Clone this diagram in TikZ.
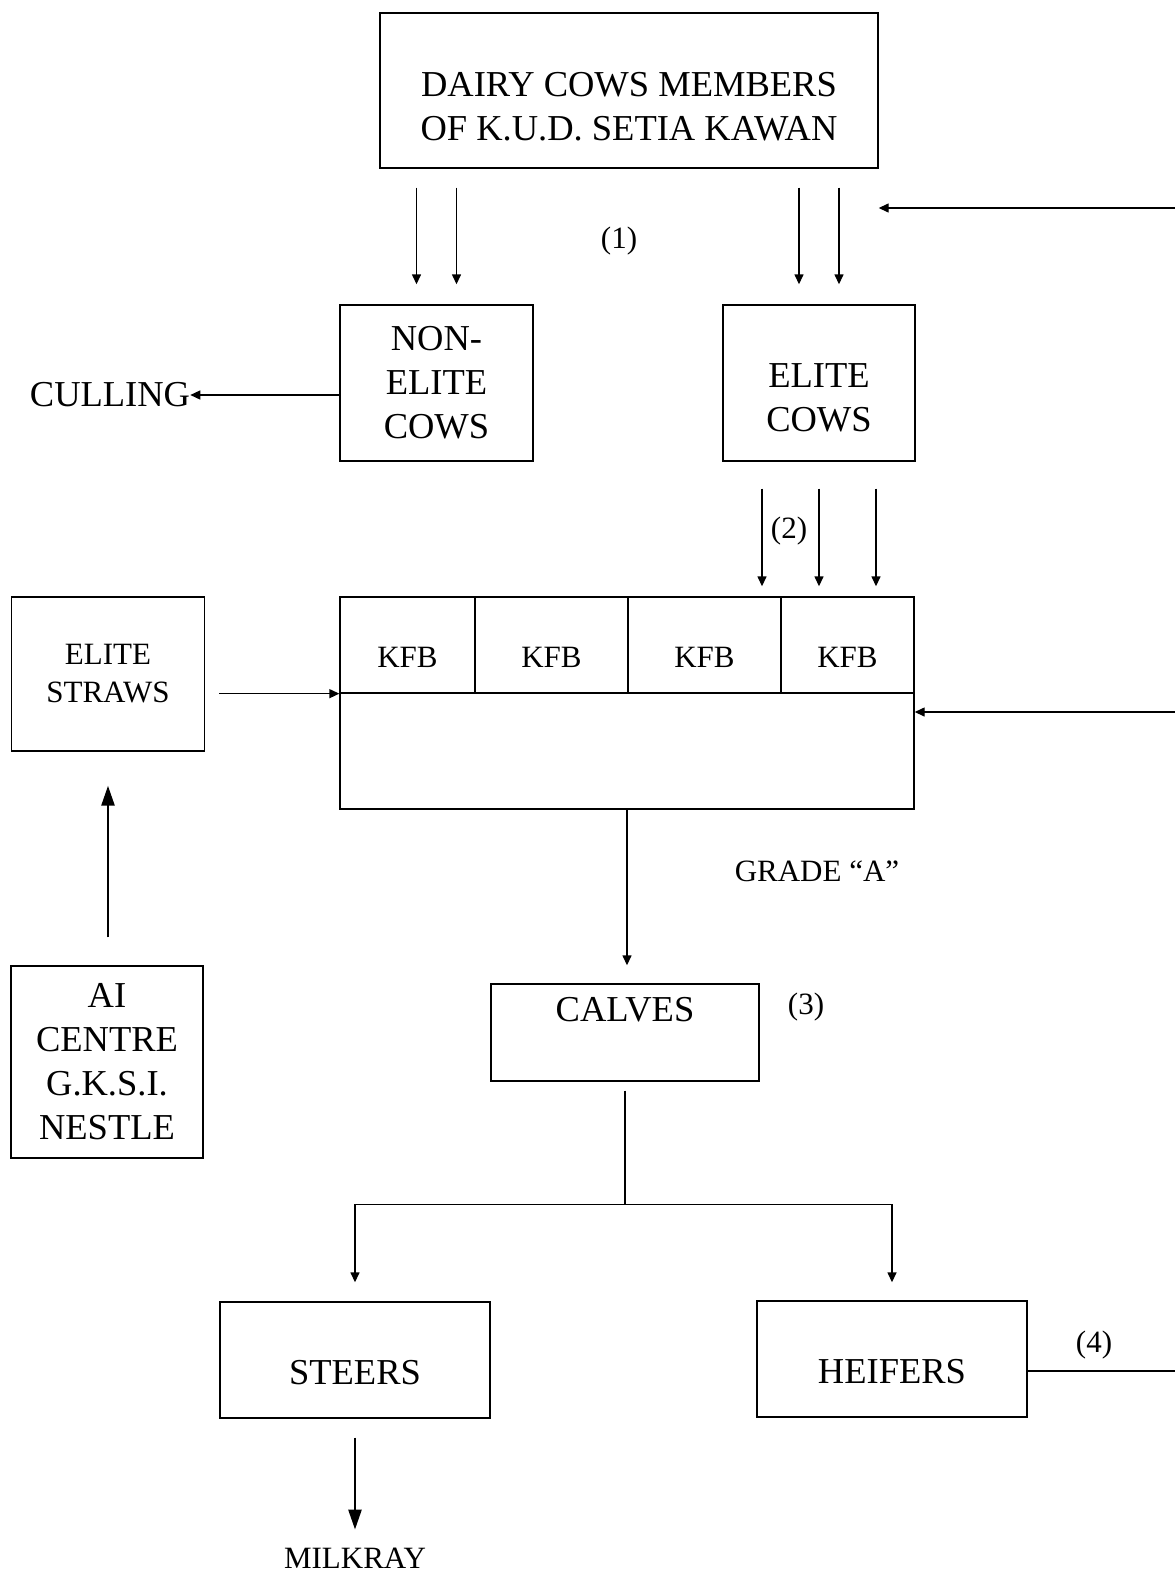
\documentclass[tikz,border=0pt]{standalone}
\usepackage{fontspec}
\setmainfont{Liberation Serif}
\usetikzlibrary{arrows.meta,positioning}
\newcommand\boxfont{\fontsize{36.5}{44}\selectfont}
\newcommand\notefont{\fontsize{31}{38}\selectfont}
\tikzset{
  unit/.style ={rectangle, draw=black, line width=1.4pt, inner sep=0pt,
                align=center, font=\boxfont},
  cell/.style ={rectangle, draw=black, line width=1.3pt, inner sep=0pt,
                minimum height=96pt, font=\notefont, text height=44.5pt, text depth=0pt},
  sink/.style ={text height=#1, text depth=0pt},
  lbl/.style  ={inner sep=0pt, align=center, font=\boxfont},
  note/.style ={inner sep=0pt, font=\notefont},
  ln/.style   ={line width=1.4pt},
  ar/.style   ={-{Triangle[length=10pt,width=9pt]}, line width=1.4pt},
  bigar/.style={-{Triangle[length=20pt,width=13pt]}, line width=2.6pt},
}
\begin{document}
\begin{tikzpicture}[x=1pt, y=-1pt]
\useasboundingbox (0,0) rectangle (1175,1577);

\node[unit, minimum width=498pt, minimum height=155pt,
      label={[lbl, yshift=-16pt]center:{DAIRY COWS MEMBERS\\OF K.U.D. SETIA KAWAN}}] (dairy) at (629,90.5) {};
\node[unit, minimum width=193pt, minimum height=156pt] (nonelite) at (436.5,383) {NON-\\ELITE\\COWS};
\node[unit, minimum width=192pt, minimum height=156pt,
      label={[lbl, yshift=-15pt]center:{ELITE\\COWS}}] (elite) at (819,383) {};
\node[lbl] (cull) at (110,395) {CULLING};
\node[note] (n1) at (619,241) {(1)};

\node[unit, minimum width=574pt, minimum height=212pt] (kfb) at (627,703) {};
\node[cell, minimum width=135pt] (kfbA) at (407.5,645) {KFB};
\node[cell, minimum width=153pt] (kfbB) at (551.5,645) {KFB};
\node[cell, minimum width=153pt] (kfbC) at (704.5,645) {KFB};
\node[cell, minimum width=133pt] (kfbD) at (847.5,645) {KFB};
\node[note] (n2) at (789,531) {(2)};

\node[unit, minimum width=193pt, minimum height=154pt, font=\notefont] (straws) at (108,674) {ELITE\\STRAWS};
\node[unit, minimum width=192pt, minimum height=192pt] (aic) at (107,1062) {AI\\CENTRE\\G.K.S.I.\\NESTLE};

\node[note] (grade) at (817,871) {GRADE “A”};
\node[unit, minimum width=268pt, minimum height=97pt, text height=24.2pt, text depth=47pt] (calves) at (625,1032.5) {CALVES};
\node[note] (n3) at (806,1007) {(3)};

\node[unit, minimum width=270pt, minimum height=116pt, sink=48pt] (steers) at (355,1360) {STEERS};
\node[unit, minimum width=270pt, minimum height=116pt, sink=48pt] (heifers) at (892,1359) {HEIFERS};
\node[note] (n4) at (1094,1345) {(4)};
\node[note] (milk) at (355,1558) {MILKRAY};

\coordinate (ret1) at (1175,208);
\coordinate (ret2) at (1175,712);
\coordinate (ret3) at (1175,1371);
\path (calves.south) ++(0,123) coordinate (split);

\foreach \dx in {-20,20} {
  \draw[ar] ([xshift=\dx pt, yshift=-19pt]nonelite.north |- dairy.south) -- ([xshift=\dx pt, yshift=20pt]nonelite.north);
  \draw[ar] ([xshift=\dx pt, yshift=-19pt]elite.north |- dairy.south) -- ([xshift=\dx pt, yshift=20pt]elite.north);
}
\draw[ar] (ret1) -- (ret1 -| dairy.east);
\draw[ar] (nonelite.west |- cull.east) -- (cull.east);
\foreach \dx in {-57,0,57}
  \draw[ar] ([xshift=\dx pt, yshift=-27pt]elite.south) -- ([xshift=\dx pt, yshift=10pt]elite.south |- kfb.north);
\draw[ar] ([xshift=14pt]straws.east |- kfbA.south west) -- (kfbA.south west);
\draw[ar] (ret2) -- (ret2 -| kfb.east);
\draw[bigar] ([yshift=28pt]straws.south |- aic.north) -- ([yshift=-34pt]straws.south);
\draw[ar] (kfb.south) -- ([yshift=18pt]kfb.south |- calves.north);
\draw[ln] ([yshift=-9pt]calves.south) -- (split);
\draw[ar] (split) -| ([yshift=19pt]steers.north);
\draw[ar] (split) -| ([yshift=18pt]heifers.north);
\draw[ln] (heifers.east |- ret3) -- (ret3);
\draw[bigar] ([yshift=-19pt]steers.south) -- ([yshift=18pt]milk.north);
\end{tikzpicture}
\end{document}
